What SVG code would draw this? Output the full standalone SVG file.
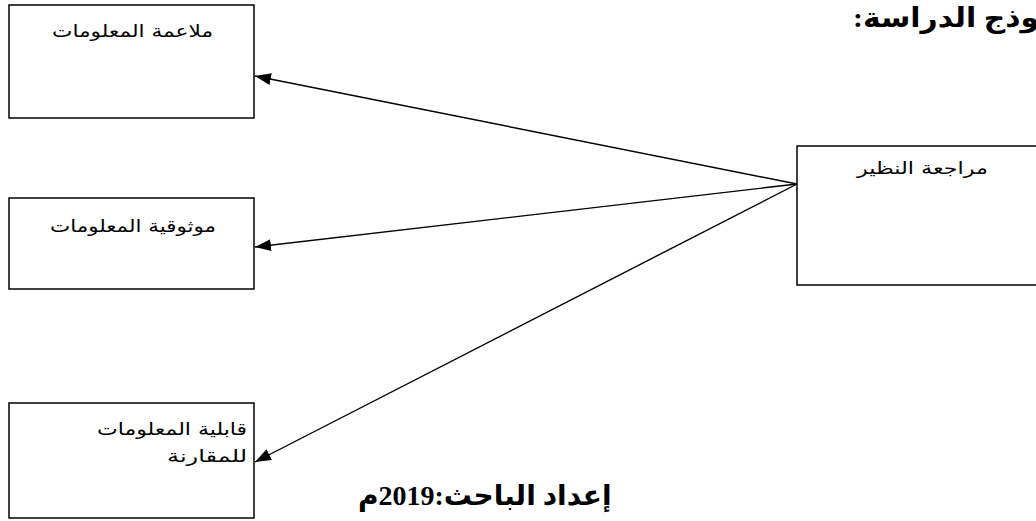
<svg xmlns="http://www.w3.org/2000/svg" width="1036" height="521" viewBox="0 0 1036 521">
<style>
.box{fill:#fff;stroke:#000;stroke-width:1.5}
.lbl{font-family:"DejaVu Sans","Noto Sans",sans-serif;font-size:17px;fill:#000}
.big{font-family:"Liberation Serif","DejaVu Sans",serif;font-weight:bold;fill:#000}
.conn{stroke:#000;stroke-width:1.4;fill:none}
</style>
<defs>
<marker id="ah" markerUnits="userSpaceOnUse" markerWidth="18" markerHeight="14" refX="16" refY="6" orient="auto">
<path d="M0,0 L16,6 L0,12 Z" fill="#000"/>
</marker>
</defs>
<rect width="1036" height="521" fill="#fff"/>
<text class="big" x="853" y="27" font-size="27" direction="rtl" text-anchor="end" textLength="186" lengthAdjust="spacingAndGlyphs">وذج الدراسة:</text>
<g id="node-peer">
<rect class="box" x="797" y="146" width="260" height="139"/>
<text class="lbl" x="988" y="174" direction="rtl" text-anchor="start" textLength="131" lengthAdjust="spacingAndGlyphs">مراجعة النظير</text>
</g>
<g id="node-relevance">
<rect class="box" x="9" y="5" width="245" height="113"/>
<text class="lbl" x="213" y="37" direction="rtl" text-anchor="start" textLength="161" lengthAdjust="spacingAndGlyphs">ملاعمة المعلومات</text>
</g>
<g id="node-reliability">
<rect class="box" x="9" y="198" width="245" height="91"/>
<text class="lbl" x="216" y="232" direction="rtl" text-anchor="start" textLength="166" lengthAdjust="spacingAndGlyphs">موثوقية المعلومات</text>
</g>
<g id="node-comparability">
<rect class="box" x="9" y="403" width="245" height="115"/>
<text class="lbl" x="247" y="435" direction="rtl" text-anchor="start" textLength="150" lengthAdjust="spacingAndGlyphs">قابلية المعلومات</text>
<text class="lbl" x="247" y="462" direction="rtl" text-anchor="start" textLength="80" lengthAdjust="spacingAndGlyphs">للمقارنة</text>
</g>
<g id="connectors">
<line class="conn" x1="797" y1="184" x2="255" y2="76" marker-end="url(#ah)"/>
<line class="conn" x1="797" y1="184" x2="255" y2="247" marker-end="url(#ah)"/>
<line class="conn" x1="797" y1="184" x2="255" y2="462" marker-end="url(#ah)"/>
</g>
<text class="big" x="358" y="505" font-size="28" direction="rtl" text-anchor="end">إعداد الباحث:2019م</text>
</svg>
